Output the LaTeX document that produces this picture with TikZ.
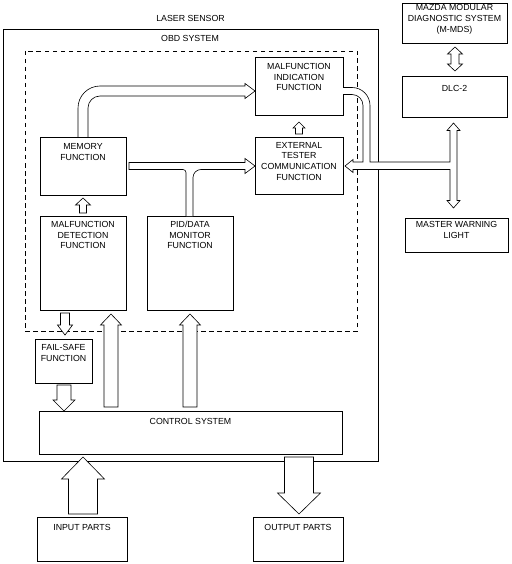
\documentclass[tikz,border=0pt]{standalone}
\usepackage{fontspec}
\setmainfont{Liberation Sans}
\usetikzlibrary{calc}
\tikzset{
  bx/.style={draw=black, line width=0.6pt, rectangle, inner sep=0pt, outer sep=0pt, anchor=north west},
  lbl/.style={inner sep=0pt, align=center, anchor=north, font=\fontsize{8.8}{10.7}\selectfont},
  blk/.style={draw=black, line width=0.6pt, line join=miter, fill=white},
  dsh/.style={draw=black, line width=0.6pt, dash pattern=on 4.5pt off 3.5pt},
}
% vertical block arrow: tail, tip, half shaft, half head, head length
\newcommand\vblk[5]{\draw[blk] let \p1=(#1),\p2=(#2),\n1={2*(\y2>\y1)-1} in
  (\x2,\y2) -- ({\x2+#4},{\y2-(\n1)*#5}) -- ({\x2+#3},{\y2-(\n1)*#5}) -- ({\x2+#3},\y1)
  -- ({\x2-#3},\y1) -- ({\x2-#3},{\y2-(\n1)*#5}) -- ({\x2-#4},{\y2-(\n1)*#5}) -- cycle;}
% vertical double block arrow
\newcommand\dblk[5]{\draw[blk] let \p1=(#1),\p2=(#2),\n1={2*(\y2>\y1)-1} in
  (\x2,\y2) -- ({\x2+#4},{\y2-(\n1)*#5}) -- ({\x2+#3},{\y2-(\n1)*#5}) -- ({\x2+#3},{\y1+(\n1)*#5})
  -- ({\x2+#4},{\y1+(\n1)*#5}) -- (\x2,\y1) -- ({\x2-#4},{\y1+(\n1)*#5}) -- ({\x2-#3},{\y1+(\n1)*#5})
  -- ({\x2-#3},{\y2-(\n1)*#5}) -- ({\x2-#4},{\y2-(\n1)*#5}) -- cycle;}
\begin{document}
\begin{tikzpicture}[x=1pt,y=-1pt]
\useasboundingbox (0,0) rectangle (511,564);

% frames
\node[bx, minimum width=375pt, minimum height=432pt] (laser) at (3,29) {};
\node[lbl] (lasert) at (190.5,15) {LASER SENSOR};
\node[lbl] (obdt) at (190,35) {OBD SYSTEM};
\draw[dsh] (25,51) rectangle (357,331);

% boxes
\node[bx, minimum width=86pt, minimum height=58pt] (mem) at (40,137) {};
\node[bx, minimum width=88pt, minimum height=58pt] (mil) at (255,57) {};
\node[bx, minimum width=88pt, minimum height=57pt] (ext) at (255,137) {};
\node[bx, minimum width=86pt, minimum height=94pt] (det) at (40,216) {};
\node[bx, minimum width=86pt, minimum height=94pt] (pid) at (147,216) {};
\node[bx, minimum width=57pt, minimum height=44pt] (fs) at (35,339) {};
\node[bx, minimum width=303pt, minimum height=43pt] (ctl) at (39,411) {};
\node[bx, minimum width=90pt, minimum height=44pt] (inp) at (37,517) {};
\node[bx, minimum width=90pt, minimum height=44pt] (out) at (253,517) {};
\node[bx, minimum width=105pt, minimum height=40pt] (mmds) at (402,3) {};
\node[bx, minimum width=105pt, minimum height=41pt] (dlc) at (402,76) {};
\node[bx, minimum width=103pt, minimum height=34pt] (mwl) at (405,218) {};

% texts
\node[lbl] (memt) at ($(mem.north)+(0,6)$) {MEMORY\\FUNCTION};
\node[lbl] (milt) at ($(mil.north)+(0,6)$) {MALFUNCTION\\INDICATION\\FUNCTION};
\node[lbl] (extt) at ($(ext.north)+(0,5)$) {EXTERNAL\\TESTER\\COMMUNICATION\\FUNCTION};
\node[lbl] (dett) at ($(det.north)+(0,5)$) {MALFUNCTION\\DETECTION\\FUNCTION};
\node[lbl] (pidt) at ($(pid.north)+(0,5)$) {PID/DATA\\MONITOR\\FUNCTION};
\node[lbl] (fst) at ($(fs.north)+(0,5)$) {FAIL-SAFE\\FUNCTION};
\node[lbl] (ctlt) at ($(ctl.north)+(0,7)$) {CONTROL SYSTEM};
\node[lbl] (inpt) at ($(inp.north)+(0,7)$) {INPUT PARTS};
\node[lbl] (outt) at ($(out.north)+(0,7)$) {OUTPUT PARTS};
\node[lbl] (mmdst) at ($(mmds.north)+(0,1.5)$) {MAZDA MODULAR\\DIAGNOSTIC SYSTEM\\(M-MDS)};
\node[lbl] (dlct) at ($(dlc.north)+(0,9)$) {DLC-2};
\node[lbl] (mwlt) at ($(mwl.north)+(0,3)$) {MASTER WARNING\\LIGHT};

% straight block arrows
\vblk{$(det.north)+(0,-3)$}{$(mem.south)+(0,3)$}{3.5pt}{7.5pt}{7pt}
\vblk{$(ext.north)+(0,-3)$}{$(mil.south)+(0,7)$}{3.5pt}{6pt}{6pt}
\vblk{$(det.south)+(-18,3)$}{$(fs.north)+(1.5,-4)$}{4.5pt}{7.5pt}{10pt}
\vblk{$(fs.south)+(0.5,2)$}{$(fs.south |- ctl.north)+(0.5,0)$}{7pt}{11pt}{11pt}
\vblk{$(ctl.north)+(-79.5,-4)$}{$(det.south)+(28,4)$}{7pt}{10.5pt}{11pt}
\vblk{$(ctl.north)+(-0.5,-4)$}{$(pid.south)+(0,4)$}{7pt}{10.5pt}{11pt}
\vblk{$(inp.north)+(1,-3)$}{$(ctl.south)+(-107.5,3)$}{14.5pt}{21.5pt}{22pt}
\vblk{$(ctl.south)+(108.5,3)$}{$(out.north)+(1,-3)$}{14.5pt}{21.5pt}{21pt}
\dblk{$(mmds.south)+(0.5,4)$}{$(dlc.north)+(0.5,-5)$}{4pt}{7.5pt}{7pt}

% memory -> malfunction indication (curved)
\draw[blk] (mem.north -| 78,0) -- (78,108) .. controls (78,95.85) and (87.85,86) .. (100,86)
  -- (245,86) -- (245,83.5) -- (mil.west |- 0,91) -- (245,98.5) -- (245,96) -- (100,96)
  .. controls (93.37,96) and (88,101.37) .. (88,108) -- (mem.north -| 88,0);

% memory -> external tester, with PID/DATA joining
\draw[blk] (pid.north -| 186,0) -- (186,172.5) .. controls (186,170.84) and (184.66,169.5) .. (183,169.5)
  -- (129,169.5) -- (129,162.5) -- (245,162.5) -- (245,158.5) -- (ext.west |- 0,166)
  -- (245,173.5) -- (245,169.5) -- (201,169.5) .. controls (196.58,169.5) and (193,173.08) .. (193,177.5)
  -- (pid.north -| 193,0);

% malfunction indication / DLC-2 / master warning light / external tester
\draw[blk] (mil.east |- 0,87.5) -- (352,87.5) .. controls (361.94,87.5) and (370,95.56) .. (370,105.5)
  -- (370,162) -- (450,162) -- (450,130.5) -- (447,130.5) -- ($(dlc.south)+(-1,6)$)
  -- (460,130.5) -- (457,130.5) -- (457,200.5) -- (460,200.5) -- ($(mwl.north)+(-3,-10)$)
  -- (447,200.5) -- (450,200.5) -- (450,169.5) -- (353,169.5) -- (353,172.5)
  -- ($(ext.east |- 0,166)+(2,0)$) -- (353,159.5) -- (353,162) -- (363,162) -- (363,105.5)
  .. controls (363,99.42) and (358.08,94.5) .. (352,94.5) -- (mil.east |- 0,94.5);
\end{tikzpicture}
\end{document}
